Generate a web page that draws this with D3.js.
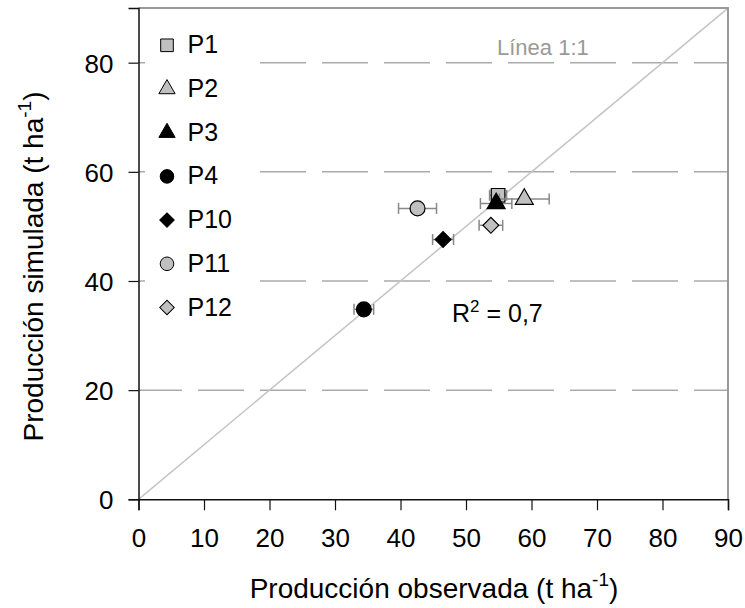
<!DOCTYPE html>
<html>
<head>
<meta charset="utf-8">
<script src="https://cdn.jsdelivr.net/npm/d3@7"></script>
<style>
  body { margin: 0; background: #fff; }
  svg { font-family: "Liberation Sans", Arial, sans-serif; }
</style>
</head>
<body>
<div id="chart"></div>
<script>
const series = ['P1', 'P2', 'P3', 'P4', 'P10', 'P11', 'P12'];
const observed = [54.9, 58.9, 54.6, 34.4, 46.5, 42.6, 53.8];
const simulated = [55.7, 55.0, 54.2, 34.8, 47.6, 53.3, 50.2];
const obsError = [1.3, 3.8, 2.4, 1.5, 1.6, 2.9, 1.8];
const shapes = ['square', 'triangle', 'triangle', 'circle', 'diamond', 'circle', 'diamond'];
const fills = ['#c0c0c0', '#c0c0c0', '#000', '#000', '#000', '#c0c0c0', '#c0c0c0'];
const xTicks = [0, 10, 20, 30, 40, 50, 60, 70, 80, 90];
const yTicks = [0, 20, 40, 60, 80];
const gridTicks = [20, 40, 60, 80];

const width = 745, height = 608;
const plotLeft = 138.5, plotRight = 728, plotTop = 8.1, plotBottom = 499.3;

const x = d3.scaleLinear().domain([0, 90]).range([plotLeft, plotRight]);
const y = d3.scaleLinear().domain([0, 90]).range([plotBottom, plotTop]);

const svg = d3.select('#chart').append('svg')
  .attr('width', width)
  .attr('height', height);

// dashed grid
svg.append('g').selectAll('line').data(gridTicks)
  .enter().append('line')
    .attr('x1', x(0)).attr('x2', x(90))
    .attr('y1', d => y(d)).attr('y2', d => y(d))
    .attr('stroke', '#aaa')
    .attr('stroke-width', 1.5)
    .attr('stroke-dasharray', '46,16')
    .attr('stroke-dashoffset', 2.5);

// 1:1 line
svg.append('line')
  .attr('x1', x(0)).attr('y1', y(0))
  .attr('x2', x(90)).attr('y2', y(90))
  .attr('stroke', '#c4c4c4')
  .attr('stroke-width', 1.5);

// frame: top and right grey
svg.append('path')
  .attr('d', `M${x(0)},${y(90)}H${x(90)}V${y(0)}`)
  .attr('fill', 'none')
  .attr('stroke', '#999')
  .attr('stroke-width', 2);

// axes
const xAxis = d3.axisBottom(x).tickValues(xTicks).tickSize(11).tickPadding(8);
const yAxis = d3.axisLeft(y).tickValues(yTicks).tickSize(10).tickPadding(15);

const gx = svg.append('g')
  .attr('transform', `translate(0,${y(0)})`)
  .call(xAxis);
const gy = svg.append('g')
  .attr('transform', `translate(${x(0)},0)`)
  .call(yAxis);

[gx, gy].forEach(g => {
  g.select('.domain').attr('stroke', '#111').attr('stroke-width', 1.5);
  g.selectAll('.tick line').attr('stroke', '#111').attr('stroke-width', 1.2);
  g.selectAll('.tick text')
    .attr('fill', '#000')
    .style('font-size', '26px')
    .style('font-family', '"Liberation Sans", Arial, sans-serif');
});
gx.selectAll('.tick text').attr('dy', '1.1em');
gy.selectAll('.tick text').attr('dy', '0.36em');

// axis titles
const xTitle = svg.append('text')
  .attr('x', 434).attr('y', 598)
  .attr('text-anchor', 'middle')
  .style('font-size', '28px')
  .text('Producción observada (t ha');
xTitle.append('tspan').attr('dy', -12).style('font-size', '19px').text('-1');
xTitle.append('tspan').attr('dy', 12).text(')');

const yTitle = svg.append('text')
  .attr('transform', 'translate(43,266.5) rotate(-90)')
  .attr('text-anchor', 'middle')
  .style('font-size', '28px')
  .text('Producción simulada (t ha');
yTitle.append('tspan').attr('dy', -12).style('font-size', '19px').text('-1');
yTitle.append('tspan').attr('dy', 12).text(')');

// labels
svg.append('text')
  .attr('x', 497).attr('y', 55)
  .attr('fill', '#999')
  .style('font-size', '22px')
  .text('Línea 1:1');

const r2 = svg.append('text')
  .attr('x', 452).attr('y', 321.5)
  .style('font-size', '25px')
  .text('R');
r2.append('tspan').attr('dy', -10).style('font-size', '17px').text('2');
r2.append('tspan').attr('dy', 10).text(' = 0,7');

// symbols
const symbolPath = (shape, big) => {
  const types = {
    square: [d3.symbolSquare, big ? 185 : 160],
    triangle: [d3.symbolTriangle, big ? 140 : 115],
    circle: [d3.symbolCircle, big ? 175 : 145],
    diamond: [d3.symbolSquare, big ? 125 : 105]
  };
  const [t, s] = types[shape];
  return d3.symbol().type(t).size(s)();
};
const symbolRot = shape => shape === 'diamond' ? ' rotate(45)' : '';

// points with horizontal error bars
const pts = svg.append('g').selectAll('g').data(series)
  .enter().append('g');

pts.each(function (name, i) {
  const g = d3.select(this);
  const cy = y(simulated[i]);
  const x1 = x(observed[i] - obsError[i]);
  const x2 = x(observed[i] + obsError[i]);
  g.append('line')
    .attr('x1', x1).attr('x2', x2).attr('y1', cy).attr('y2', cy)
    .attr('stroke', '#888').attr('stroke-width', 1.5);
  [x1, x2].forEach(cx => {
    g.append('line')
      .attr('x1', cx).attr('x2', cx).attr('y1', cy - 5.5).attr('y2', cy + 5.5)
      .attr('stroke', '#888').attr('stroke-width', 1.5);
  });
  g.append('path')
    .attr('d', symbolPath(shapes[i], true))
    .attr('transform', `translate(${x(observed[i])},${cy})${symbolRot(shapes[i])}`)
    .attr('fill', fills[i])
    .attr('stroke', '#000')
    .attr('stroke-width', 1.2);
});

// legend
const legend = svg.append('g');
legend.append('rect')
  .attr('x', 145).attr('y', 22).attr('width', 113).attr('height', 308)
  .attr('fill', '#fff');

const rowY = i => 53.3 + i * 43.7;
series.forEach((name, i) => {
  legend.append('path')
    .attr('d', symbolPath(shapes[i], false))
    .attr('transform', `translate(167,${rowY(i) - 8})${symbolRot(shapes[i])}`)
    .attr('fill', fills[i])
    .attr('stroke', '#000')
    .attr('stroke-width', 1);
  legend.append('text')
    .attr('x', 187.5).attr('y', rowY(i))
    .style('font-size', '25px')
    .text(name);
});
</script>
</body>
</html>
